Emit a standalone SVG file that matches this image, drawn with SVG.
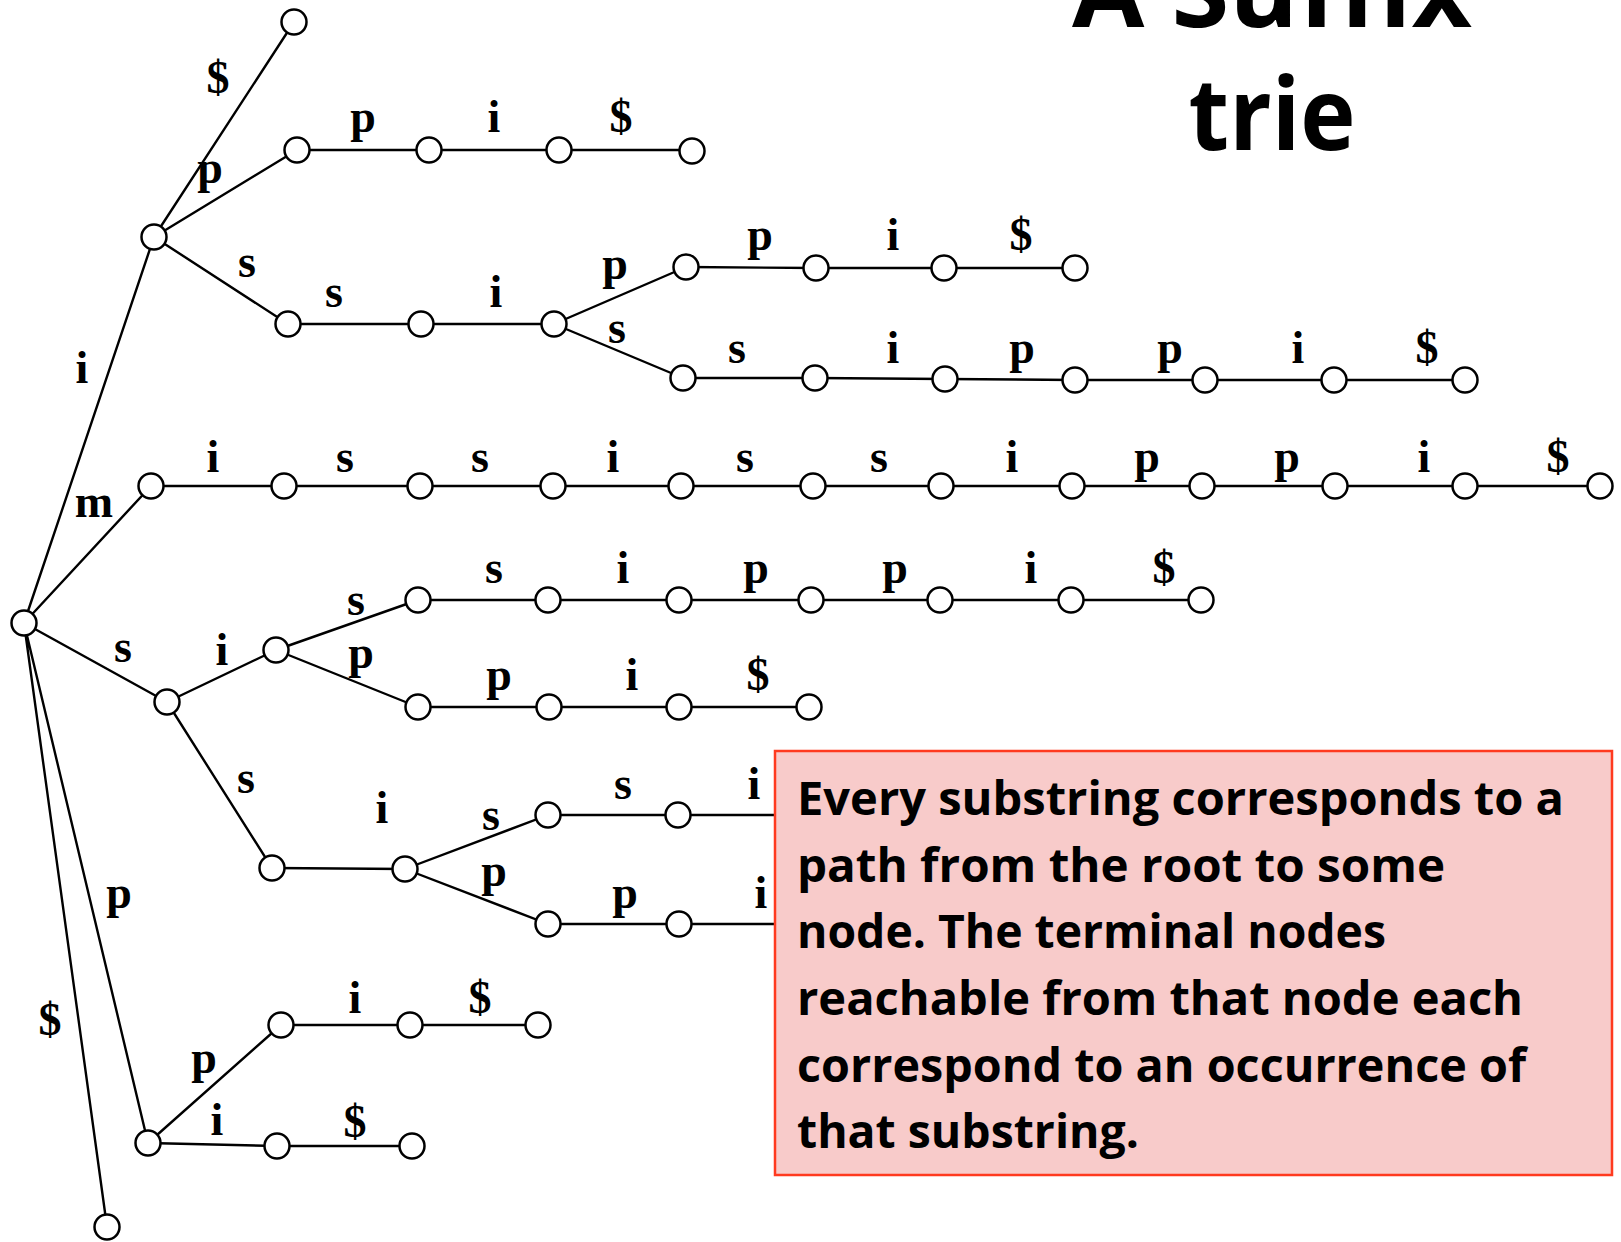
<svg xmlns="http://www.w3.org/2000/svg" width="1621" height="1242" viewBox="0 0 1621 1242">
<style>
.e{stroke:#000;stroke-width:2.4;fill:none}
.n{fill:#fff;stroke:#000;stroke-width:2.5}
.l{font-family:"Liberation Serif","Times New Roman",serif;font-weight:bold;font-size:46px;text-anchor:middle;fill:#000}
.t{font-family:"Open Sans","Liberation Sans",sans-serif;font-weight:bold;fill:#000}
.b{font-family:"Open Sans","Liberation Sans",sans-serif;font-weight:bold;font-size:46px;fill:#000}
</style>
<rect width="1621" height="1242" fill="#fff"/>
<g id="title">
<text class="t" x="1272" y="27" font-size="100" text-anchor="middle" textLength="400" lengthAdjust="spacingAndGlyphs">A Suffix</text>
<text class="t" x="1272" y="150" font-size="100" text-anchor="middle" textLength="167" lengthAdjust="spacingAndGlyphs">trie</text>
</g>
<g id="connectors">
<path class="e" d="M24,623 L154,237 M24,623 L151,486 M24,623 L167,702 M24,623 L148,1143 M24,623 L107,1227"/>
<path class="e" d="M154,237 L294,22 M154,237 L297,150 M154,237 L288,324"/>
<path class="e" d="M297,150 H692"/>
<path class="e" d="M288,324 H554 M554,324 L686,267 M554,324 L683,378"/>
<path class="e" d="M686,267 L816,268 H1075"/>
<path class="e" d="M683,378 L815,378 L945,379 L1075,380 H1465"/>
<path class="e" d="M151,486 H1600"/>
<path class="e" d="M167,702 L276,650 M167,702 L272,868 M276,650 L418,600 M276,650 L418,707"/>
<path class="e" d="M418,600 H1201 M418,707 H809"/>
<path class="e" d="M272,868 L405,869 M405,869 L548,815 M405,869 L548,924"/>
<path class="e" d="M548,815 H775 M548,924 H775"/>
<path class="e" d="M148,1143 L281,1025 M148,1143 L277,1146 M281,1025 H538 M277,1146 H412"/>
</g>
<g id="edge-labels">
<text class="l" x="82" y="383">i</text>
<text class="l" x="94" y="517">m</text>
<text class="l" x="123" y="662">s</text>
<text class="l" x="119" y="908">p</text>
<text class="l" x="50" y="1035">$</text>
<text class="l" x="218" y="93">$</text>
<text class="l" x="210" y="183">p</text>
<text class="l" x="247" y="277">s</text>
<text class="l" x="363" y="132">p</text>
<text class="l" x="494" y="132">i</text>
<text class="l" x="621" y="132">$</text>
<text class="l" x="334" y="307">s</text>
<text class="l" x="496" y="307">i</text>
<text class="l" x="615" y="279">p</text>
<text class="l" x="617" y="343">s</text>
<text class="l" x="760" y="250">p</text>
<text class="l" x="893" y="250">i</text>
<text class="l" x="1021" y="250">$</text>
<text class="l" x="737" y="363">s</text>
<text class="l" x="893" y="363">i</text>
<text class="l" x="1022" y="363">p</text>
<text class="l" x="1170" y="363">p</text>
<text class="l" x="1298" y="363">i</text>
<text class="l" x="1427" y="363">$</text>
<text class="l" x="213" y="472">i</text>
<text class="l" x="345" y="472">s</text>
<text class="l" x="480" y="472">s</text>
<text class="l" x="613" y="472">i</text>
<text class="l" x="745" y="472">s</text>
<text class="l" x="879" y="472">s</text>
<text class="l" x="1012" y="472">i</text>
<text class="l" x="1147" y="472">p</text>
<text class="l" x="1287" y="472">p</text>
<text class="l" x="1424" y="472">i</text>
<text class="l" x="1558" y="472">$</text>
<text class="l" x="222" y="665">i</text>
<text class="l" x="246" y="793">s</text>
<text class="l" x="356" y="615">s</text>
<text class="l" x="361" y="668">p</text>
<text class="l" x="494" y="583">s</text>
<text class="l" x="623" y="583">i</text>
<text class="l" x="756" y="583">p</text>
<text class="l" x="895" y="583">p</text>
<text class="l" x="1031" y="583">i</text>
<text class="l" x="1164" y="583">$</text>
<text class="l" x="499" y="690">p</text>
<text class="l" x="632" y="690">i</text>
<text class="l" x="758" y="690">$</text>
<text class="l" x="382" y="823">i</text>
<text class="l" x="491" y="830">s</text>
<text class="l" x="494" y="886">p</text>
<text class="l" x="623" y="799">s</text>
<text class="l" x="754" y="799">i</text>
<text class="l" x="625" y="908">p</text>
<text class="l" x="761" y="908">i</text>
<text class="l" x="204" y="1073">p</text>
<text class="l" x="217" y="1135">i</text>
<text class="l" x="355" y="1013">i</text>
<text class="l" x="480" y="1013">$</text>
<text class="l" x="355" y="1137">$</text>
</g>
<g id="nodes">
<g id="n-root"><circle class="n" cx="24" cy="623" r="12.5"/></g>
<g id="n-i"><circle class="n" cx="154" cy="237" r="12.5"/></g>
<g id="n-i-dollar"><circle class="n" cx="294" cy="22" r="12.5"/></g>
<g id="n-ip"><circle class="n" cx="297" cy="150" r="12.5"/></g>
<g id="n-ipp"><circle class="n" cx="429" cy="150" r="12.5"/></g>
<g id="n-ippi"><circle class="n" cx="559" cy="150" r="12.5"/></g>
<g id="n-ippi-dollar"><circle class="n" cx="692" cy="151" r="12.5"/></g>
<g id="n-is"><circle class="n" cx="288" cy="324" r="12.5"/></g>
<g id="n-iss"><circle class="n" cx="421" cy="324" r="12.5"/></g>
<g id="n-issi"><circle class="n" cx="554" cy="324" r="12.5"/></g>
<g id="n-issip"><circle class="n" cx="686" cy="267" r="12.5"/></g>
<g id="n-issipp"><circle class="n" cx="816" cy="268" r="12.5"/></g>
<g id="n-issippi"><circle class="n" cx="944" cy="268" r="12.5"/></g>
<g id="n-issippi-dollar"><circle class="n" cx="1075" cy="268" r="12.5"/></g>
<g id="n-isss"><circle class="n" cx="683" cy="378" r="12.5"/></g>
<g id="n-issss"><circle class="n" cx="815" cy="378" r="12.5"/></g>
<g id="n-isssi"><circle class="n" cx="945" cy="379" r="12.5"/></g>
<g id="n-isssip"><circle class="n" cx="1075" cy="380" r="12.5"/></g>
<g id="n-isssipp"><circle class="n" cx="1205" cy="380" r="12.5"/></g>
<g id="n-isssippi"><circle class="n" cx="1334" cy="380" r="12.5"/></g>
<g id="n-isssippi-dollar"><circle class="n" cx="1465" cy="380" r="12.5"/></g>
<g id="n-m"><circle class="n" cx="151" cy="486" r="12.5"/></g>
<g id="n-m1"><circle class="n" cx="284" cy="486" r="12.5"/></g>
<g id="n-m2"><circle class="n" cx="420" cy="486" r="12.5"/></g>
<g id="n-m3"><circle class="n" cx="553" cy="486" r="12.5"/></g>
<g id="n-m4"><circle class="n" cx="681" cy="486" r="12.5"/></g>
<g id="n-m5"><circle class="n" cx="813" cy="486" r="12.5"/></g>
<g id="n-m6"><circle class="n" cx="941" cy="486" r="12.5"/></g>
<g id="n-m7"><circle class="n" cx="1072" cy="486" r="12.5"/></g>
<g id="n-m8"><circle class="n" cx="1202" cy="486" r="12.5"/></g>
<g id="n-m9"><circle class="n" cx="1335" cy="486" r="12.5"/></g>
<g id="n-m10"><circle class="n" cx="1465" cy="486" r="12.5"/></g>
<g id="n-m11"><circle class="n" cx="1600" cy="486" r="12.5"/></g>
<g id="n-s"><circle class="n" cx="167" cy="702" r="12.5"/></g>
<g id="n-si"><circle class="n" cx="276" cy="650" r="12.5"/></g>
<g id="n-sis"><circle class="n" cx="418" cy="600" r="12.5"/></g>
<g id="n-sis1"><circle class="n" cx="548" cy="600" r="12.5"/></g>
<g id="n-sis2"><circle class="n" cx="679" cy="600" r="12.5"/></g>
<g id="n-sis3"><circle class="n" cx="811" cy="600" r="12.5"/></g>
<g id="n-sis4"><circle class="n" cx="940" cy="600" r="12.5"/></g>
<g id="n-sis5"><circle class="n" cx="1071" cy="600" r="12.5"/></g>
<g id="n-sis6"><circle class="n" cx="1201" cy="600" r="12.5"/></g>
<g id="n-sip"><circle class="n" cx="418" cy="707" r="12.5"/></g>
<g id="n-sip1"><circle class="n" cx="549" cy="707" r="12.5"/></g>
<g id="n-sip2"><circle class="n" cx="679" cy="707" r="12.5"/></g>
<g id="n-sip3"><circle class="n" cx="809" cy="707" r="12.5"/></g>
<g id="n-ss"><circle class="n" cx="272" cy="868" r="12.5"/></g>
<g id="n-ssi"><circle class="n" cx="405" cy="869" r="12.5"/></g>
<g id="n-ssis"><circle class="n" cx="548" cy="815" r="12.5"/></g>
<g id="n-ssiss"><circle class="n" cx="678" cy="815" r="12.5"/></g>
<g id="n-ssip"><circle class="n" cx="548" cy="924" r="12.5"/></g>
<g id="n-ssipp"><circle class="n" cx="679" cy="924" r="12.5"/></g>
<g id="n-p"><circle class="n" cx="148" cy="1143" r="12.5"/></g>
<g id="n-pp"><circle class="n" cx="281" cy="1025" r="12.5"/></g>
<g id="n-ppi"><circle class="n" cx="410" cy="1025" r="12.5"/></g>
<g id="n-ppi-dollar"><circle class="n" cx="538" cy="1025" r="12.5"/></g>
<g id="n-pi"><circle class="n" cx="277" cy="1146" r="12.5"/></g>
<g id="n-pi-dollar"><circle class="n" cx="412" cy="1146" r="12.5"/></g>
<g id="n-dollar"><circle class="n" cx="107" cy="1227" r="12.5"/></g>
</g>
<g id="note">
<rect x="775" y="751" width="837" height="424" fill="#f8cbca" stroke="#ff3a1f" stroke-width="2.5"/>
<text class="b" x="797" y="815" textLength="767" lengthAdjust="spacingAndGlyphs">Every substring corresponds to a</text>
<text class="b" x="797" y="882" textLength="648" lengthAdjust="spacingAndGlyphs">path from the root to some</text>
<text class="b" x="797" y="948" textLength="589" lengthAdjust="spacingAndGlyphs">node. The terminal nodes</text>
<text class="b" x="797" y="1015" textLength="726" lengthAdjust="spacingAndGlyphs">reachable from that node each</text>
<text class="b" x="797" y="1082" textLength="729" lengthAdjust="spacingAndGlyphs">correspond to an occurrence of</text>
<text class="b" x="797" y="1148" textLength="342" lengthAdjust="spacingAndGlyphs">that substring.</text>
</g>
</svg>
